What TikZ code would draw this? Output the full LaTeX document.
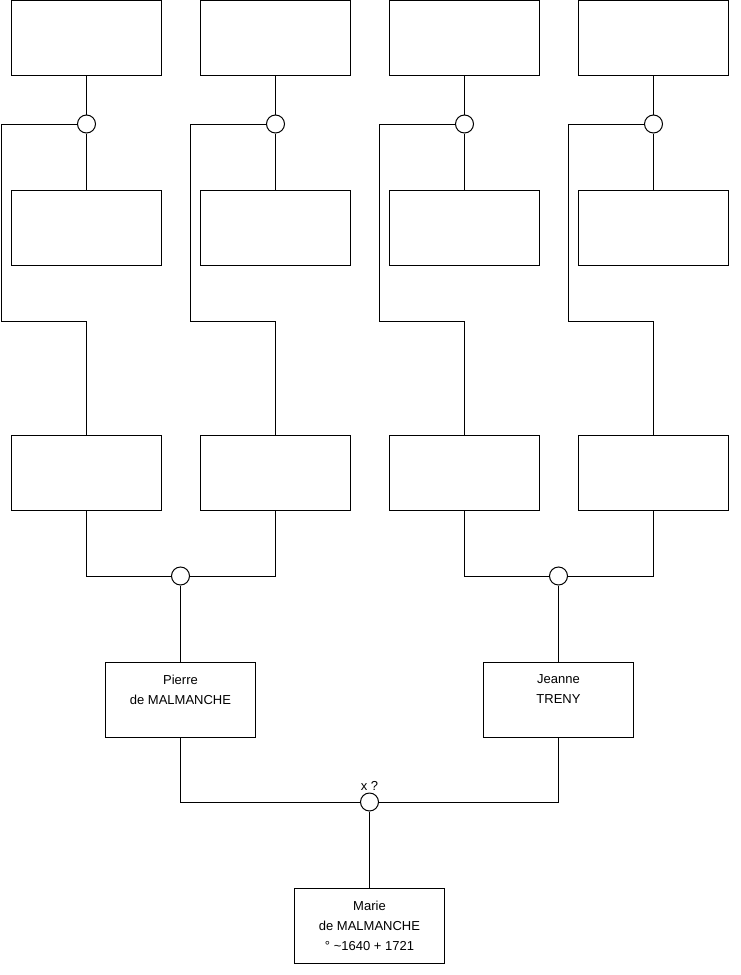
\documentclass[tikz,border=0pt]{standalone}
\usepackage{fontspec}
\setmainfont{Liberation Sans}

\begin{document}
\begin{tikzpicture}[x=1pt, y=-1pt, line width=1pt,
    % styles
    person/.style={draw, minimum width=150pt, minimum height=75pt, align=center,
        inner sep=0pt, font=\fontsize{13}{20}\selectfont},
    union/.style={draw, circle, minimum size=18pt, inner sep=0pt, fill=white}
]
    \useasboundingbox (0,0) rectangle (740,975);

    % --- four upper columns ---
    \foreach \i/\x in {1/86.5, 2/275.5, 3/464.5, 4/653.5} {
        \node[person] (f\i) at (\x, 38) {};
        \node[person] (m\i) at (\x, 227.5) {};
        \node[person] (p\i) at (\x, 472.5) {};
        \node[union] (u\i) at (\x, 124) {};
        \coordinate (k\i) at (\x-85, 321);
        \draw (f\i) -- (u\i) -- (m\i);
        \draw (u\i.west) -| (k\i) -| (p\i.north);
    }

    % --- parents ---
    \node[person] (pierre) at (180.5, 699.5) {Pierre\\de MALMANCHE\\\mbox{}};
    \node[person] (jeanne) at (558.5, 699.5) {Jeanne\\TRENY\\\mbox{}};
    \node[union] (u5) at (180.5, 576) {};
    \node[union] (u6) at (558.5, 576) {};
    \draw (p1.south) |- (u5.west);
    \draw (p2.south) |- (u5.east);
    \draw (p3.south) |- (u6.west);
    \draw (p4.south) |- (u6.east);
    \draw (u5) -- (pierre);
    \draw (u6) -- (jeanne);

    % --- child ---
    \node[union, label={[font=\fontsize{13}{20}\selectfont, label distance=-2pt]above:x ?}] (u7) at (369.5, 802) {};
    \node[person] (marie) at (369.5, 926) {Marie\\de MALMANCHE\\° \textasciitilde 1640 + 1721};
    \draw (pierre.south) |- (u7.west);
    \draw (jeanne.south) |- (u7.east);
    \draw (u7) -- (marie);

\end{tikzpicture}
\end{document}
